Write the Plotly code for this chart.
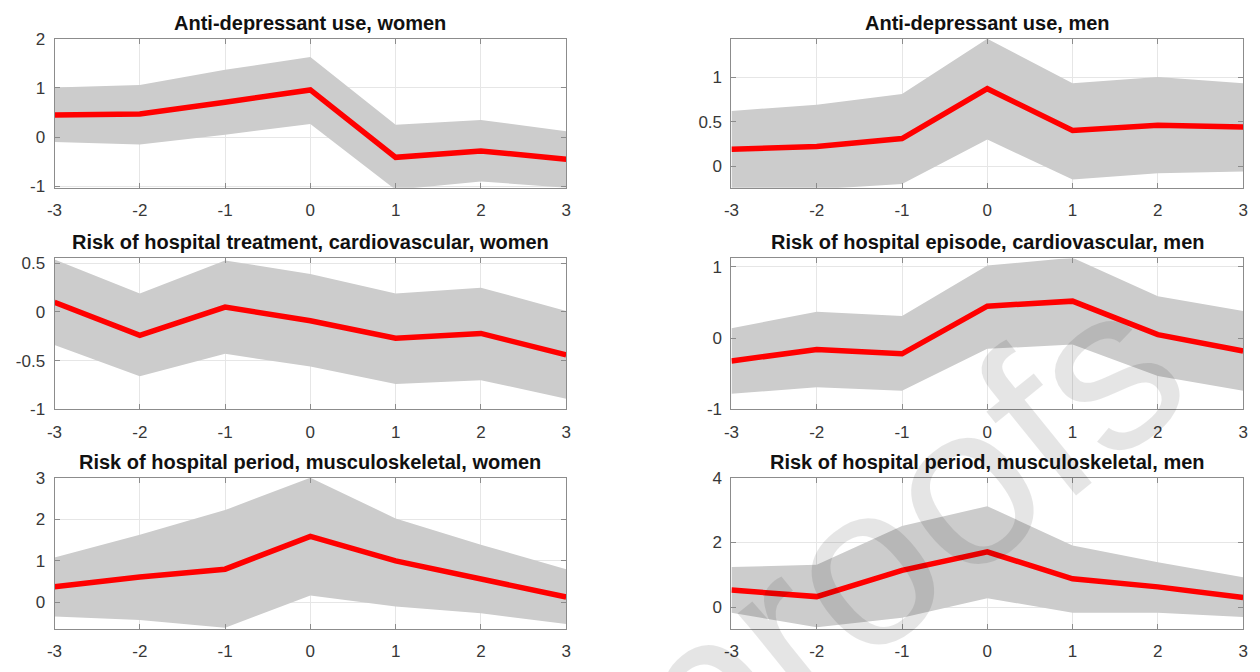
import plotly.graph_objects as go

# ---------------- data ----------------
years = [-3, -2, -1, 0, 1, 2, 3]
x_tick_labels = ["-3", "-2", "-1", "0", "1", "2", "3"]

titles = [
    "Anti-depressant use, women",
    "Anti-depressant use, men",
    "Risk of hospital treatment, cardiovascular, women",
    "Risk of hospital episode, cardiovascular, men",
    "Risk of hospital period, musculoskeletal, women",
    "Risk of hospital period, musculoskeletal, men",
]

ad_women_mean = [0.45, 0.47, 0.71, 0.96, -0.41, -0.28, -0.45]
ad_women_upper = [1.01, 1.06, 1.37, 1.63, 0.25, 0.35, 0.12]
ad_women_lower = [-0.10, -0.15, 0.05, 0.27, -1.07, -0.90, -1.03]

ad_men_mean = [0.19, 0.22, 0.31, 0.87, 0.40, 0.46, 0.44]
ad_men_upper = [0.62, 0.69, 0.81, 1.43, 0.93, 1.00, 0.93]
ad_men_lower = [-0.32, -0.26, -0.20, 0.30, -0.15, -0.08, -0.06]

cv_women_mean = [0.10, -0.24, 0.05, -0.09, -0.27, -0.22, -0.44]
cv_women_upper = [0.54, 0.19, 0.53, 0.39, 0.19, 0.25, 0.01]
cv_women_lower = [-0.34, -0.66, -0.43, -0.56, -0.74, -0.70, -0.89]

cv_men_mean = [-0.32, -0.16, -0.22, 0.45, 0.52, 0.05, -0.18]
cv_men_upper = [0.14, 0.37, 0.31, 1.02, 1.13, 0.59, 0.38]
cv_men_lower = [-0.78, -0.69, -0.74, -0.15, -0.09, -0.53, -0.74]

ms_women_mean = [0.38, 0.61, 0.80, 1.59, 1.00, 0.57, 0.13]
ms_women_upper = [1.08, 1.63, 2.22, 3.00, 2.02, 1.39, 0.80]
ms_women_lower = [-0.34, -0.42, -0.61, 0.17, -0.10, -0.26, -0.52]

ms_men_mean = [0.53, 0.33, 1.14, 1.71, 0.88, 0.63, 0.30]
ms_men_upper = [1.24, 1.31, 2.51, 3.12, 1.91, 1.39, 0.93]
ms_men_lower = [-0.17, -0.62, -0.32, 0.28, -0.17, -0.17, -0.30]

y_tick_vals = [
    [-1, 0, 1, 2],
    [0, 0.5, 1],
    [-1, -0.5, 0, 0.5],
    [-1, 0, 1],
    [0, 1, 2, 3],
    [0, 2, 4],
]
y_tick_labels = [
    ["-1", "0", "1", "2"],
    ["0", "0.5", "1"],
    ["-1", "-0.5", "0", "0.5"],
    ["-1", "0", "1"],
    ["0", "1", "2", "3"],
    ["0", "2", "4"],
]
y_ranges = [
    [-1.03, 2.0],
    [-0.243, 1.43],
    [-1.0, 0.55],
    [-1.0, 1.12],
    [-0.63, 3.0],
    [-0.66, 4.0],
]

means = [ad_women_mean, ad_men_mean, cv_women_mean, cv_men_mean, ms_women_mean, ms_men_mean]
uppers = [ad_women_upper, ad_men_upper, cv_women_upper, cv_men_upper, ms_women_upper, ms_men_upper]
lowers = [ad_women_lower, ad_men_lower, cv_women_lower, cv_men_lower, ms_women_lower, ms_men_lower]

watermark = "Journal Pre-proofs"

# ---------------- layout geometry (pixels) ----------------
W, H = 1260, 672
col_px = [(47, 564), (731, 1248)]
row_px = [(30.7, 184), (256.7, 412), (482.3, 637.7)]

FONT = "Liberation Sans, Arial, sans-serif"

fig = go.Figure()
annotations = []

for i in range(6):
    r, c = divmod(i, 2)
    n = i + 1
    xa = "x" if n == 1 else f"x{n}"
    ya = "y" if n == 1 else f"y{n}"
    # confidence band polygon
    fig.add_trace(go.Scatter(
        x=years + years[::-1],
        y=uppers[i] + lowers[i][::-1],
        fill="toself", fillcolor="#cccccc",
        line=dict(width=0, color="#cccccc"),
        mode="lines", hoverinfo="skip", showlegend=False,
        xaxis=xa, yaxis=ya,
    ))
    fig.add_trace(go.Scatter(
        x=years, y=means[i], mode="lines",
        line=dict(color="#ff0000", width=5.5),
        showlegend=False, xaxis=xa, yaxis=ya,
    ))
    x0, x1 = col_px[c]
    t, b = row_px[r]
    xdom = [x0 / W, x1 / W]
    ydom = [1 - b / H, 1 - t / H]
    axis_common = dict(
        showline=True, mirror="ticks", linecolor="#8c8c8c", linewidth=1,
        ticks="inside", ticklen=5, tickcolor="#8c8c8c", tickwidth=1,
        showgrid=True, gridcolor="#e6e6e6", gridwidth=1,
        zeroline=False,
        tickfont=dict(family=FONT, size=17, color="#383838"),
    )
    fig.layout[("xaxis" if n == 1 else f"xaxis{n}")] = dict(
        domain=xdom, range=[-3, 3], anchor=ya,
        tickmode="array", tickvals=years, ticktext=x_tick_labels,
        ticklabelstandoff=7,
        **axis_common,
    )
    fig.layout[("yaxis" if n == 1 else f"yaxis{n}")] = dict(
        domain=ydom, range=y_ranges[i], anchor=xa,
        tickmode="array", tickvals=y_tick_vals[i], ticktext=y_tick_labels[i],
        ticklabelstandoff=5,
        **axis_common,
    )
    annotations.append(dict(
        text=titles[i], xref="paper", yref="paper",
        x=(xdom[0] + xdom[1]) / 2, y=ydom[1], xanchor="center", yanchor="bottom",
        yshift=3, showarrow=False,
        font=dict(family=FONT, size=20, color="#111111", weight="bold"),
    ))

# watermark
wm_cx, wm_cy = 410, 947
annotations.append(dict(
    text=watermark, xref="paper", yref="paper",
    x=wm_cx / W, y=1 - wm_cy / H, xanchor="center", yanchor="middle",
    textangle=-39, showarrow=False,
    font=dict(family=FONT, size=230, color="rgba(0,0,0,0.10)"),
))

fig.update_layout(
    width=W, height=H,
    margin=dict(l=0, r=0, t=0, b=0),
    paper_bgcolor="white", plot_bgcolor="white",
    annotations=annotations,
    showlegend=False,
)

fig.write_html(
    "out.html",
    config={"displayModeBar": False},
    post_script="document.body.style.margin='0';",
)
